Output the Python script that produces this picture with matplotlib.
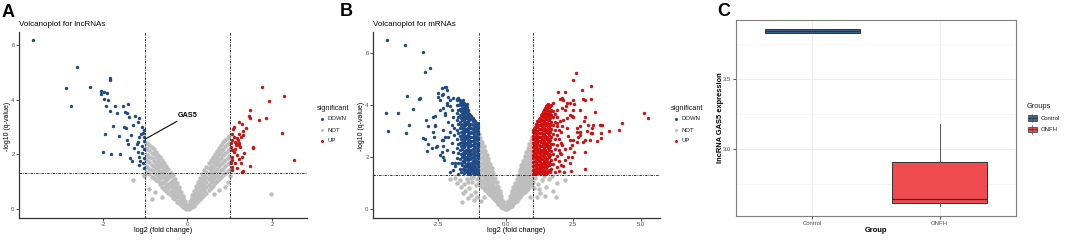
import numpy as np
import matplotlib
matplotlib.use("Agg")
import matplotlib.pyplot as plt
from matplotlib.patches import Rectangle
from matplotlib.lines import Line2D

plt.rcParams['font.family'] = ['Liberation Sans', 'DejaVu Sans']

# ---------------- DATA ----------------
# Panel A (lncRNAs) - significant down (blue)
A_down = [[-3.66,6.19],[-2.61,5.19],[-2.87,4.42],[-2.30,4.48],[-2.77,3.77],[-1.83,4.80],[-1.84,4.73],
          [-2.04,4.33],[-1.98,4.30],[-1.91,4.26],[-2.05,4.20],[-1.97,4.02],[-1.89,3.99],[-1.92,3.77],
          [-1.71,3.78],[-1.83,3.59],[-1.67,3.50],[-1.53,3.77],[-1.42,3.83],[-1.47,3.56],[-1.43,3.50],
          [-1.39,3.38],[-1.24,3.42],[-1.16,3.32],[-1.17,3.20],[-1.76,3.05],[-1.50,3.01],[-1.45,2.96],
          [-1.30,3.08],[-1.08,2.99],[-1.04,2.89],[-1.05,2.80],[-1.95,2.75],[-1.63,2.67],[-1.34,2.71],
          [-1.16,2.65],[-1.43,2.53],[-1.41,2.37],[-1.18,2.47],[-1.20,2.38],[-1.04,2.50],[-1.26,2.22],
          [-1.08,2.31],[-2.00,2.09],[-1.80,2.00],[-1.61,2.00],[-1.37,1.88],[-1.31,1.76],[-1.16,1.92],
          [-1.08,2.06],[-1.18,2.10],[-1.04,1.86],[-1.05,1.67],[-1.02,1.49],[-1.16,1.61],[-1.04,2.65],
          [-1.02,2.20],[-1.10,2.75],[-1.12,1.75]]
# Panel A - significant up (red)
A_up = [[1.77,4.48],[2.28,4.15],[1.92,3.96],[1.49,3.63],[1.46,3.42],[1.47,3.34],[1.70,3.26],[1.85,3.32],
        [1.21,3.20],[1.29,3.11],[1.11,3.01],[1.07,2.92],[1.39,2.96],[1.32,2.87],[2.24,2.77],[1.05,2.75],
        [1.09,2.65],[1.06,2.53],[1.21,2.75],[1.26,2.63],[1.17,2.59],[1.31,2.71],[1.13,2.47],[1.21,2.43],
        [1.15,2.34],[1.25,2.28],[1.56,2.28],[1.54,2.25],[1.03,2.28],[1.05,2.16],[1.09,2.10],[1.17,1.98],
        [1.29,1.92],[1.34,2.06],[1.05,1.92],[1.06,1.79],[1.03,1.67],[1.21,1.82],[1.26,1.70],[1.49,1.59],
        [2.52,1.78],[1.05,1.55],[1.06,1.43],[1.31,1.40],[1.29,1.34],[1.17,1.49],[1.13,1.67],[1.19,2.52],
        [1.14,2.40],[1.02,2.40],[1.12,2.20],[1.23,2.36]]
# Panel A - not significant (grey), read column by column along the V
A_not_cols_x = [-0.03,-0.07,-0.10,-0.15,-0.20,-0.25,-0.30,-0.35,-0.40,-0.45,-0.50,-0.55,-0.60,-0.65,
                -0.70,-0.75,-0.80,-0.85,-0.90,-0.95,-0.99,
                0.03,0.07,0.10,0.15,0.20,0.25,0.30,0.35,0.40,0.45,0.50,0.55,0.60,0.65,0.70,0.75,
                0.80,0.85,0.90,0.95,0.99]
A_not_cols_y = [
    [0.01,0.05,0.10,0.15],[0.04,0.12,0.20,0.30],[0.07,0.16,0.23,0.31,0.40,0.46],
    [0.13,0.25,0.33,0.45,0.53,0.63],[0.22,0.31,0.46,0.56,0.70,0.79],[0.27,0.43,0.54,0.69,0.81,0.95],
    [0.37,0.50,0.67,0.80,0.97,1.08],[0.42,0.60,0.74,0.92,1.06,1.23],[0.51,0.66,0.85,1.00,1.19,1.33],
    [0.57,0.77,0.93,1.13,1.29,1.47],[0.67,0.84,1.05,1.22,1.43,1.58],[0.72,0.94,1.12,1.33,1.50,1.70],
    [0.82,1.00,1.22,1.40,1.62,1.78],[0.90,1.12,1.30,1.52,1.70,1.90],[1.01,1.19,1.41,1.59,1.81,1.98],
    [1.05,1.28,1.47,1.70,1.89,2.10],[1.12,1.32,1.56,1.76,2.00,2.18],[1.18,1.42,1.62,1.86,2.06,2.28],
    [1.27,1.47,1.71,1.91,2.15,2.33],[1.30,1.54,1.74,1.98,2.18,2.40],[1.37,1.57,1.81,2.01,2.25,2.43],
    [0.01,0.06,0.11,0.16],[0.04,0.13,0.21,0.31],[0.06,0.16,0.25,0.34,0.42,0.50],
    [0.12,0.26,0.36,0.48,0.57,0.66],[0.21,0.33,0.48,0.60,0.73,0.84],[0.28,0.44,0.57,0.72,0.86,1.00],
    [0.36,0.53,0.69,0.85,1.01,1.15],[0.44,0.61,0.79,0.96,1.12,1.29],[0.52,0.70,0.88,1.06,1.24,1.41],
    [0.60,0.79,0.98,1.18,1.36,1.55],[0.68,0.88,1.09,1.28,1.49,1.67],[0.76,0.97,1.18,1.39,1.59,1.79],
    [0.85,1.06,1.28,1.49,1.71,1.90],[0.94,1.16,1.37,1.60,1.81,2.01],[1.03,1.25,1.47,1.70,1.92,2.12],
    [1.10,1.33,1.56,1.79,2.02,2.23],[1.17,1.41,1.64,1.88,2.11,2.34],[1.25,1.48,1.72,1.96,2.20,2.44],
    [1.32,1.56,1.80,2.05,2.29,2.53],[1.38,1.63,1.87,2.12,2.37,2.60],[1.43,1.68,1.93,2.18,2.43,2.66]]
A_not_extra = [[-1.28,1.05],[-1.03,1.25],[-0.84,0.36],[-0.92,0.75],[-0.78,0.62],[-0.60,0.45],
               [0.97,1.00],[0.90,0.80],[0.75,0.70],[1.98,0.55],[-1.02,1.20],[0.62,0.55],[1.00,1.20]]
A_gas5 = [-1.0, 2.56]

# Panel B (mRNAs) - significant down, dense columns + scattered points
B_down_cols_x = [-1.02,-1.07,-1.12,-1.17,-1.22,-1.27,-1.32,-1.38,-1.44,-1.50,-1.56,-1.62,-1.68,-1.75,-1.82,
                 -1.35,-1.41,-1.47,-1.53,-1.59,-1.65]
B_down_cols_y = [
    [1.36,1.50,1.66,1.80,1.95,2.11,2.26,2.40,2.55,2.71,2.86,3.00,3.14,3.25],
    [1.40,1.55,1.72,1.86,2.02,2.17,2.33,2.48,2.63,2.78,2.94,3.09,3.22,3.31],
    [1.35,1.47,1.62,1.78,1.93,2.08,2.24,2.39,2.54,2.69,2.85,3.00,3.16,3.36],
    [1.42,1.58,1.73,1.88,2.05,2.20,2.35,2.51,2.66,2.81,2.97,3.12,3.27,3.42],
    [1.38,1.53,1.68,1.84,2.00,2.15,2.30,2.46,2.61,2.77,2.92,3.08,3.24,3.38,3.50],
    [1.45,1.62,1.78,1.95,2.12,2.28,2.44,2.61,2.78,2.95,3.12,3.28,3.44,3.56],
    [1.36,1.55,1.72,1.90,2.06,2.24,2.42,2.58,2.76,2.93,3.10,3.27,3.45,3.62],
    [1.50,1.78,2.02,2.30,2.55,2.82,3.05,3.30,3.52,3.75],
    [1.42,1.70,1.95,2.22,2.48,2.74,3.00,3.25,3.48,3.70,3.92],
    [1.60,1.88,2.15,2.45,2.70,2.98,3.22,3.48,3.72,3.95],
    [1.48,1.80,2.08,2.38,2.62,2.92,3.18,3.42,3.68,3.90,4.08],
    [1.70,2.00,2.30,2.58,2.85,3.12,3.40,3.65,3.88,4.12],
    [1.55,1.90,2.25,2.52,2.80,3.10,3.35,3.60,3.85,4.05,4.20],
    [1.75,2.15,2.50,2.90,3.25,3.55,3.80,4.00,4.28],
    [1.95,2.35,2.70,3.05,3.40,3.70,3.98,4.22],
    [1.40,1.65,1.90,2.15,2.40,2.66,2.92,3.18,3.42,3.66],
    [1.36,1.62,1.88,2.12,2.38,2.62,2.88,3.12,3.36,3.60,3.82],
    [1.48,1.74,2.00,2.28,2.55,2.82,3.08,3.34,3.58,3.84],
    [1.38,1.66,1.94,2.22,2.52,2.80,3.06,3.32,3.56,3.80,4.00],
    [1.52,1.84,2.14,2.44,2.72,3.00,3.28,3.54,3.78,4.02],
    [1.40,1.75,2.10,2.40,2.68,2.96,3.24,3.50,3.75,3.98]]
B_down_extra = [[-4.38,6.50],[-3.72,6.31],[-3.07,6.03],[-2.81,5.43],[-3.00,5.28],[-4.43,3.70],[-3.98,3.68],
    [-4.37,3.00],[-3.67,4.35],[-3.42,3.83],[-3.59,3.23],[-3.70,2.91],[-3.17,4.28],[-3.21,4.23],
    [-2.95,3.42],[-2.88,3.17],[-3.07,2.72],[-2.98,2.68],[-2.87,2.50],[-2.90,2.23],[-2.61,3.59],
    [-2.51,4.32],[-2.43,4.19],[-2.21,4.67],[-2.19,4.58],[-2.35,4.38],[-2.62,3.17],[-2.64,2.78],
    [-2.56,2.40],[-2.43,2.08],[-2.37,2.20],[-2.31,2.65],[-2.31,3.04],[-2.25,3.62],[-2.16,4.07],
    [-2.06,3.96],[-1.94,4.26],[-1.81,4.19],[-1.69,4.13],[-1.57,4.19],[-1.44,4.04],[-1.88,1.76],
    [-1.88,1.63],[-1.78,1.33],[-2.68,3.55],[-2.62,3.23],[-2.68,2.97],[-2.58,2.37],[-2.74,2.33],
    [-2.50,4.45],[-2.37,4.64],[-2.25,4.70],[-2.31,4.41],[-2.43,3.81],[-2.31,3.87],[-2.25,3.68],
    [-2.19,4.00],[-2.13,4.32],[-2.37,2.65],[-2.25,2.78],[-2.31,2.42],[-2.33,2.01],[-2.29,1.88],
    [-2.06,4.19],[-2.00,3.81],[-1.94,3.55],[-2.00,3.23],[-2.06,2.97],[-2.00,2.53],[-1.94,2.20],
    [-2.00,1.76],[-2.06,1.43],[-2.12,2.75],[-2.15,3.35],[-1.92,2.85],[-1.95,1.50],[-2.18,2.25],
    [-1.90,3.10]]
# Panel B - significant up
B_up_cols_x = [1.02,1.07,1.12,1.17,1.22,1.27,1.32,1.38,1.44,1.50,1.56,1.62,1.68,1.75,1.82,1.90,1.97,2.05,
               1.35,1.41,1.47,1.53,1.59,1.65]
B_up_cols_y = [
    [1.35,1.50,1.64,1.79,1.94,2.09,2.23,2.38,2.52,2.67,2.82,2.95,3.05],
    [1.40,1.55,1.70,1.85,2.00,2.15,2.30,2.45,2.60,2.75,2.90,3.04,3.15],
    [1.36,1.49,1.64,1.80,1.95,2.10,2.26,2.41,2.56,2.71,2.86,3.01,3.14,3.26],
    [1.43,1.58,1.74,1.90,2.05,2.21,2.36,2.52,2.67,2.82,2.98,3.13,3.25,3.36],
    [1.37,1.52,1.68,1.84,1.99,2.15,2.31,2.46,2.62,2.78,2.93,3.09,3.24,3.36,3.46],
    [1.46,1.62,1.79,1.95,2.11,2.27,2.43,2.60,2.76,2.92,3.08,3.24,3.38,3.51],
    [1.38,1.56,1.73,1.90,2.07,2.24,2.41,2.58,2.75,2.92,3.09,3.26,3.43,3.60],
    [1.48,1.76,2.02,2.28,2.55,2.80,3.05,3.30,3.52,3.72],
    [1.40,1.68,1.95,2.20,2.47,2.72,2.98,3.24,3.48,3.70,3.88],
    [1.58,1.86,2.14,2.42,2.68,2.96,3.22,3.46,3.70,3.95],
    [1.45,1.78,2.06,2.35,2.62,2.90,3.16,3.42,3.66,3.88,4.05],
    [1.68,1.98,2.28,2.56,2.84,3.12,3.40,3.64,3.90],
    [1.52,1.88,2.22,2.50,2.78,3.08,3.34,3.60,3.82,4.00],
    [1.72,2.10,2.48,2.86,3.22,3.55,3.78],
    [1.40,1.90,2.30,2.68,3.02,3.35,3.65],
    [1.62,2.05,2.45,2.85,3.20,3.55],
    [1.45,1.85,2.25,2.70,3.05],
    [1.68,2.12,2.55,2.95],
    [1.42,1.66,1.92,2.17,2.42,2.68,2.93,3.18,3.42,3.64],
    [1.36,1.60,1.86,2.12,2.36,2.62,2.88,3.12,3.38,3.60,3.80],
    [1.46,1.72,1.99,2.26,2.54,2.80,3.06,3.32,3.58,3.82],
    [1.38,1.64,1.92,2.20,2.50,2.78,3.04,3.30,3.56,3.80,3.98],
    [1.50,1.82,2.12,2.42,2.70,2.98,3.26,3.52,3.76,3.98],
    [1.40,1.74,2.08,2.38,2.66,2.94,3.22,3.48,3.72,3.94]]
B_up_extra = [[2.60,5.22],[2.50,4.94],[3.16,4.73],[1.95,4.51],[2.20,4.49],[2.81,4.58],[2.01,4.24],
    [2.11,4.19],[2.26,4.06],[2.50,4.19],[2.54,4.04],[2.94,4.19],[3.16,4.24],[3.31,3.74],[2.44,3.58],
    [2.50,3.55],[2.94,3.53],[3.06,3.23],[3.19,3.10],[3.49,3.23],[3.54,2.93],[3.84,3.01],[4.19,3.04],
    [4.30,3.30],[5.13,3.68],[5.26,3.49],[3.37,2.62],[3.16,2.91],[2.94,2.65],[2.69,2.78],[2.75,2.97],
    [2.65,3.10],[2.50,2.65],[2.95,1.54],[2.54,2.18],[1.74,4.06],[2.07,4.26],[2.38,4.06],[2.87,4.22],
    [2.75,3.81],[2.50,3.81],[2.07,3.87],[2.20,3.81],[1.89,3.81],[2.38,3.62],[2.26,3.49],[2.13,3.42],
    [2.01,3.36],[1.89,3.30],[2.07,3.17],[2.26,3.10],[2.90,3.36],[2.75,3.17],[2.63,2.97],[2.75,2.85],
    [2.38,2.65],[2.63,2.59],[2.87,2.59],[3.12,2.65],[3.24,3.23],[3.00,3.01],[3.19,2.91],[3.56,3.23],
    [3.53,2.72],[2.94,2.20],[2.38,2.33],[2.32,2.01],[2.20,1.88],[2.13,1.63],[2.38,1.76],[2.01,2.14],
    [2.07,2.46],[2.30,2.80],[2.20,2.30],[2.45,2.00],[2.15,1.40],[2.40,1.45],[2.25,3.95],[2.45,2.45]]
# Panel B - not significant
B_not_cols_x = [-0.04,-0.10,-0.16,-0.22,-0.28,-0.34,-0.40,-0.46,-0.52,-0.58,-0.64,-0.70,-0.76,-0.82,-0.88,-0.94,-0.99,
                0.04,0.10,0.16,0.22,0.28,0.34,0.40,0.46,0.52,0.58,0.64,0.70,0.76,0.82,0.88,0.94,0.99]
B_not_cols_y = [
    [0.01,0.06,0.11],[0.03,0.10,0.18,0.25,0.31],[0.09,0.18,0.28,0.38,0.49],
    [0.14,0.26,0.38,0.49,0.60,0.69],[0.20,0.33,0.47,0.60,0.73,0.86],[0.27,0.41,0.56,0.72,0.87,1.02],
    [0.33,0.50,0.67,0.84,1.02,1.19],[0.41,0.60,0.79,0.98,1.18,1.37],
    [0.48,0.62,0.77,0.91,1.05,1.20,1.34,1.47,1.56],[0.55,0.70,0.86,1.02,1.17,1.33,1.48,1.62,1.73],
    [0.62,0.78,0.96,1.13,1.30,1.47,1.63,1.79,1.90],[0.68,0.86,1.05,1.23,1.42,1.60,1.78,1.95,2.07],
    [0.74,0.94,1.14,1.34,1.54,1.74,1.93,2.11,2.24],[0.80,1.01,1.23,1.44,1.66,1.87,2.08,2.27,2.41],
    [0.86,1.09,1.32,1.55,1.78,2.01,2.23,2.43,2.57],[0.92,1.16,1.40,1.65,1.90,2.14,2.38,2.58,2.74],
    [0.98,1.22,1.48,1.73,1.99,2.24,2.49,2.70,2.88],
    [0.01,0.06,0.12],[0.03,0.11,0.19,0.26,0.32],[0.08,0.19,0.29,0.39,0.48],
    [0.13,0.26,0.38,0.50,0.60,0.68],[0.19,0.33,0.47,0.60,0.73,0.85],[0.25,0.41,0.56,0.72,0.87,1.00],
    [0.32,0.49,0.66,0.83,1.00,1.16],[0.39,0.58,0.77,0.96,1.15,1.32],
    [0.46,0.60,0.75,0.89,1.03,1.17,1.31,1.43,1.51],[0.53,0.68,0.84,1.00,1.15,1.30,1.45,1.58,1.68],
    [0.60,0.76,0.93,1.10,1.27,1.44,1.60,1.74,1.85],[0.66,0.84,1.02,1.20,1.38,1.56,1.74,1.90,2.02],
    [0.72,0.91,1.11,1.30,1.50,1.69,1.88,2.05,2.19],[0.78,0.99,1.20,1.41,1.62,1.82,2.02,2.21,2.35],
    [0.84,1.06,1.29,1.51,1.73,1.95,2.17,2.36,2.51],[0.90,1.13,1.37,1.61,1.85,2.08,2.31,2.51,2.66],
    [0.96,1.20,1.45,1.69,1.94,2.18,2.42,2.62,2.78]]
B_not_extra = [[-1.79,0.99],[-1.57,0.60],[-1.88,1.20],[-1.70,1.10],[-1.55,0.95],[-1.45,1.15],[-1.35,0.80],
    [-1.25,1.05],[-1.15,0.65],[-1.10,0.90],[-1.20,1.22],[-1.05,0.45],[-1.40,0.40],[-1.62,0.28],
    [-1.30,1.20],[-2.05,1.15],[-1.50,0.70],[-1.08,1.15],[-1.18,0.35],[-0.90,0.30],[-0.80,0.45],
    [-1.65,0.85],[-1.38,1.02],[-1.28,0.55],
    [1.10,1.20],[1.20,0.95],[1.35,1.10],[1.50,0.85],[1.62,1.15],[1.75,0.70],[1.90,1.00],[1.28,0.60],
    [1.15,0.45],[1.45,0.50],[1.05,0.80],[2.20,1.10],[1.70,1.25],[1.40,1.25],[1.85,0.45],[0.90,0.45],
    [1.02,1.05],[1.25,0.75]]

# Panel C boxplot stats
C_groups = ['Control', 'ONFH']
C_whislo = [3.832, 2.590]
C_q1 = [3.826, 2.612]
C_med = [3.840, 2.640]
C_q3 = [3.855, 2.905]
C_whishi = [3.858, 3.176]

# ---------------- STYLE ----------------
GREY = '#bebebe'
BLUE = '#1f4a85'
RED = '#d10f0f'
W, H = 1065, 241
fig = plt.figure(figsize=(W / 100, H / 100), dpi=100)


def add_ax(l, t, r, b):
    return fig.add_axes([l / W, 1 - b / H, (r - l) / W, (b - t) / H])


def ftext(px, py, s, **kw):
    fig.text(px / W, 1 - py / H, s, **kw)


def cols_to_xy(cx, cy):
    xs = np.repeat(np.array(cx), [len(c) for c in cy])
    ys = np.concatenate([np.array(c) for c in cy])
    return xs, ys


def volcano(ax, gx, gy, bx, by, rx, ry, xlim, ylim, xticks, xlabels):
    ax.scatter(gx, gy, color=GREY, s=10, linewidths=0, zorder=2)
    ax.scatter(bx, by, color=BLUE, s=6, linewidths=0, zorder=2)
    ax.scatter(rx, ry, color=RED, s=6, linewidths=0, zorder=2)
    ls = (0, (2.5, 1.2, 0.8, 1.2))
    for xv in (-1, 1):
        ax.axvline(xv, color='#333333', lw=0.7, ls=ls, zorder=3)
    ax.axhline(-np.log10(0.05), color='#333333', lw=0.7, ls=ls, zorder=3)
    ax.set_xlim(*xlim)
    ax.set_ylim(*ylim)
    ax.set_xticks(xticks)
    ax.set_xticklabels(xlabels)
    ax.set_yticks([0, 2, 4, 6])
    for s in ('top', 'right'):
        ax.spines[s].set_visible(False)
    for s in ('left', 'bottom'):
        ax.spines[s].set_color('#333333')
        ax.spines[s].set_linewidth(0.9)
    ax.tick_params(length=2, width=0.6, color='#333333', labelsize=4.3,
                   labelcolor='#4d4d4d', pad=1.2)


def sig_legend(px, py):
    ftext(px, py, 'significant', fontsize=5.3, va='center', ha='left', color='#1a1a1a')
    for i, (lab, col) in enumerate([('DOWN', BLUE), ('NOT', GREY), ('UP', RED)]):
        yy = py + 11 * (i + 1)
        fig.add_artist(Line2D([(px + 5) / W], [1 - yy / H], marker='o', ms=2.2, color=col,
                              mec='none', ls='none'))
        ftext(px + 11, yy, lab, fontsize=4.3, va='center', ha='left', color='#1a1a1a')


# Panel A
axA = add_ax(19, 32, 307, 218)
gx, gy = cols_to_xy(A_not_cols_x, A_not_cols_y)
ae = np.array(A_not_extra)
gx = np.concatenate([gx, ae[:, 0]]); gy = np.concatenate([gy, ae[:, 1]])
ad = np.array(A_down); au = np.array(A_up)
volcano(axA, gx, gy, ad[:, 0], ad[:, 1], au[:, 0], au[:, 1], (-3.99, 2.83), (-0.33, 6.48),
        [-2, 0, 2], ['-2', '0', '2'])
axA.annotate('GAS5', xy=tuple(A_gas5), xytext=(-0.22, 3.44), fontsize=5.2, fontweight='bold',
             va='center', ha='left', arrowprops=dict(arrowstyle='-', color='black', lw=0.8,
                                                     shrinkA=0, shrinkB=0), zorder=5)
ftext(19, 24, 'Volcanoplot for lncRNAs', fontsize=5.8, va='center', ha='left')
ftext(163, 231, 'log2 (fold change)', fontsize=5.3, va='center', ha='center')
ftext(7.5, 126, '-log10 (q-value)', fontsize=5.0, va='center', ha='center', rotation=90)
ftext(2, 12.5, 'A', fontsize=13, fontweight='bold', va='center', ha='left')
sig_legend(316.5, 108)

# Panel B
axB = add_ax(373, 32, 660, 218)
gx, gy = cols_to_xy(B_not_cols_x, B_not_cols_y)
be = np.array(B_not_extra)
gx = np.concatenate([gx, be[:, 0]]); gy = np.concatenate([gy, be[:, 1]])
bx, by = cols_to_xy(B_down_cols_x, B_down_cols_y)
bde = np.array(B_down_extra)
bx = np.concatenate([bx, bde[:, 0]]); by = np.concatenate([by, bde[:, 1]])
rx, ry = cols_to_xy(B_up_cols_x, B_up_cols_y)
bue = np.array(B_up_extra)
rx = np.concatenate([rx, bue[:, 0]]); ry = np.concatenate([ry, bue[:, 1]])
volcano(axB, gx, gy, bx, by, rx, ry, (-4.91, 5.71), (-0.35, 6.8),
        [-2.5, 0, 2.5, 5.0], ['-2.5', '0.0', '2.5', '5.0'])
ftext(373, 24, 'Volcanoplot for mRNAs', fontsize=5.8, va='center', ha='left')
ftext(516, 231, 'log2 (fold change)', fontsize=5.3, va='center', ha='center')
ftext(361.5, 126, '-log10 (q-value)', fontsize=5.0, va='center', ha='center', rotation=90)
ftext(340, 12, 'B', fontsize=13, fontweight='bold', va='center', ha='left')
sig_legend(670.5, 108)

# Panel C
axC = add_ax(736, 20, 1016, 216)
FILLS = ['#3b6494', '#f04b4f']
stats = []
for i in range(len(C_groups)):
    stats.append(dict(label=C_groups[i], whislo=C_whislo[i], q1=C_q1[i], med=C_med[i],
                      q3=C_q3[i], whishi=C_whishi[i], fliers=[]))
bp = axC.bxp(stats, positions=[1, 2], widths=0.75, patch_artist=True, showcaps=False,
             boxprops=dict(edgecolor='#333333', linewidth=0.7),
             medianprops=dict(color='#333333', linewidth=0.9),
             whiskerprops=dict(color='#555555', linewidth=0.7), zorder=3)
for patch, col in zip(bp['boxes'], FILLS):
    patch.set_facecolor(col)
axC.set_xlim(0.4, 2.6)
axC.set_ylim(2.52, 3.92)
axC.set_yticks([3.0, 3.5])
axC.set_yticklabels(['3.0', '3.5'])
axC.set_yticks([2.75, 3.25, 3.75], minor=True)
axC.set_xticks([1, 2])
axC.set_xticklabels(C_groups)
axC.grid(True, which='major', color='#ebebeb', lw=0.6, zorder=0)
axC.grid(True, which='minor', axis='y', color='#f2f2f2', lw=0.4, zorder=0)
axC.set_axisbelow(True)
for s in axC.spines.values():
    s.set_color('#7f7f7f')
    s.set_linewidth(0.8)
axC.tick_params(length=2, width=0.6, color='#333333', labelsize=4.3, labelcolor='#4d4d4d', pad=1.5)
axC.tick_params(which='minor', length=0)
ftext(720, 118, 'lncRNA GAS5 expression', fontsize=5.4, fontweight='bold', va='center',
      ha='center', rotation=90)
ftext(876, 231, 'Group', fontsize=5.4, fontweight='bold', va='center', ha='center')
ftext(717, 11, 'C', fontsize=13, fontweight='bold', va='center', ha='left')
# legend for groups (ggplot boxplot keys)
ftext(1026.5, 106, 'Groups', fontsize=5.3, va='center', ha='left', color='#1a1a1a')
for i, (lab, col) in enumerate(zip(C_groups, FILLS)):
    yy = 118 + 11.3 * i
    fig.add_artist(Line2D([1032 / W, 1032 / W], [1 - (yy - 4.2) / H, 1 - (yy + 4.2) / H],
                          color='#555555', lw=0.5))
    fig.add_artist(Rectangle((1027.5 / W, 1 - (yy + 2.8) / H), 9 / W, 5.6 / H, facecolor=col,
                             edgecolor='#333333', lw=0.5))
    fig.add_artist(Line2D([1027.5 / W, 1036.5 / W], [1 - yy / H, 1 - yy / H], color='#333333', lw=0.6))
    ftext(1040.5, yy, lab, fontsize=4.3, va='center', ha='left', color='#1a1a1a')

fig.savefig('out.png', dpi=100)
